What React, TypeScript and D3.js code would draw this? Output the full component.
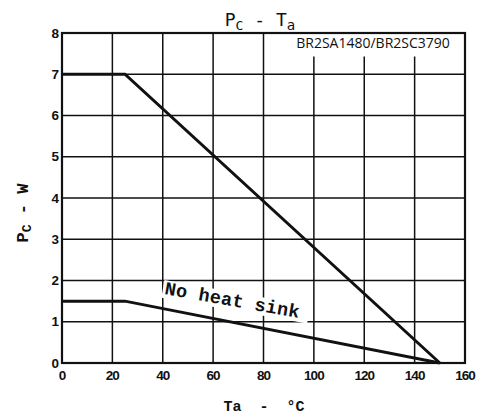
import React from "react";
import { scaleLinear, line, range } from "d3";

// derating curves (Ta in °C, Pc in W)
const withSinkTa = [0, 25, 150];
const withSinkPc = [7, 7, 0];
const noSinkTa = [0, 25, 150];
const noSinkPc = [1.5, 1.5, 0];

const xTicks = [0, 20, 40, 60, 80, 100, 120, 140, 160];
const yTicks = [0, 1, 2, 3, 4, 5, 6, 7, 8];
const partLabel = "BR2SA1480/BR2SC3790";
const curveLabel = "No heat sink";

const W = 485;
const H = 419;
const margin = { top: 33, right: 20, bottom: 56, left: 62 };

const App: React.FC = () => {
  const x = scaleLinear().domain([0, 160]).range([margin.left, W - margin.right]);
  const y = scaleLinear().domain([0, 8]).range([H - margin.bottom, margin.top]);

  const gen = line<[number, number]>()
    .x((d) => x(d[0]))
    .y((d) => y(d[1]));

  const sinkPts = withSinkTa.map((t, i) => [t, withSinkPc[i]] as [number, number]);
  const noSinkPts = noSinkTa.map((t, i) => [t, noSinkPc[i]] as [number, number]);

  // label box in the top right cell hides the upper end of the grid lines
  const boxLeft = x(86);
  const boxBottom = y(7.43);

  const tickFont = "'Liberation Sans', Arial, sans-serif";
  const mono = "'Liberation Mono', 'DejaVu Sans Mono', monospace";

  const ang = 10;

  return (
    <svg width={W} height={H} style={{ position: "absolute", left: 0, top: 0, background: "#fff" }}>
      <rect width={W} height={H} fill="#fff" />
      {/* grid */}
      <g stroke="#111" strokeWidth={1.5}>
        {xTicks.slice(1, -1).map((t) => (
          <line
            key={"gx" + t}
            x1={x(t)}
            x2={x(t)}
            y1={x(t) > boxLeft ? boxBottom : y(8)}
            y2={y(0)}
          />
        ))}
        {range(1, 8).map((t) => (
          <line key={"gy" + t} x1={x(0)} x2={x(160)} y1={y(t)} y2={y(t)} />
        ))}
      </g>
      <rect
        x={x(0)}
        y={y(8)}
        width={x(160) - x(0)}
        height={y(0) - y(8)}
        fill="none"
        stroke="#111"
        strokeWidth={2.2}
      />
      {/* curves */}
      <path d={gen(sinkPts) || ""} fill="none" stroke="#111" strokeWidth={3} />
      <path d={gen(noSinkPts) || ""} fill="none" stroke="#111" strokeWidth={3} />
      {/* curve label */}
      <rect
        x={-2}
        y={-14}
        width={148}
        height={18}
        fill="#fff"
        transform={`translate(${x(40.5)},${y(1.67)}) rotate(${ang})`}
      />
      <text
        transform={`translate(${x(40.5)},${y(1.67)}) rotate(${ang})`}
        fontFamily={mono}
        fontWeight="bold"
        fontSize={18.5}
        fill="#111"
        letterSpacing={0.3}
      >
        {curveLabel}
      </text>
      {/* part label */}
      <text x={x(93)} y={48} fontFamily="'Open Sans', 'Noto Sans', sans-serif" fontSize={14} fill="#111">
        {partLabel}
      </text>
      {/* ticks */}
      <g fontFamily={tickFont} fontWeight="bold" fontSize={13.5} fill="#111">
        {xTicks.map((t) => (
          <text key={"tx" + t} x={x(t)} y={y(0) + 17} textAnchor="middle" letterSpacing={-1}>
            {t}
          </text>
        ))}
        {yTicks.map((t) => (
          <text key={"ty" + t} x={x(0) - 3} y={y(t) + 4.5} textAnchor="end">
            {t}
          </text>
        ))}
      </g>
      {/* title */}
      <text x={260} y={26} textAnchor="middle" fontFamily="'DejaVu Sans Mono', monospace" fontSize={18} fill="#111">
        P<tspan fontSize={13} dy={4}>C</tspan>
        <tspan dy={-4}> - T</tspan>
        <tspan fontSize={14} dy={4}>a</tspan>
      </text>
      {/* axis titles */}
      <text
        x={264}
        y={411}
        textAnchor="middle"
        fontFamily={mono}
        fontWeight="bold"
        fontSize={15}
        fill="#111"
        xmlSpace="preserve"
      >
        Ta  -  °C
      </text>
      <text
        transform={`translate(28,213) rotate(-90)`}
        textAnchor="middle"
        fontFamily={mono}
        fontWeight="bold"
        fontSize={17}
        fill="#111"
        xmlSpace="preserve"
      >
        P<tspan fontSize={13} dy={3}>C</tspan>
        <tspan dy={-3}> - W</tspan>
      </text>
    </svg>
  );
};

export default App;
